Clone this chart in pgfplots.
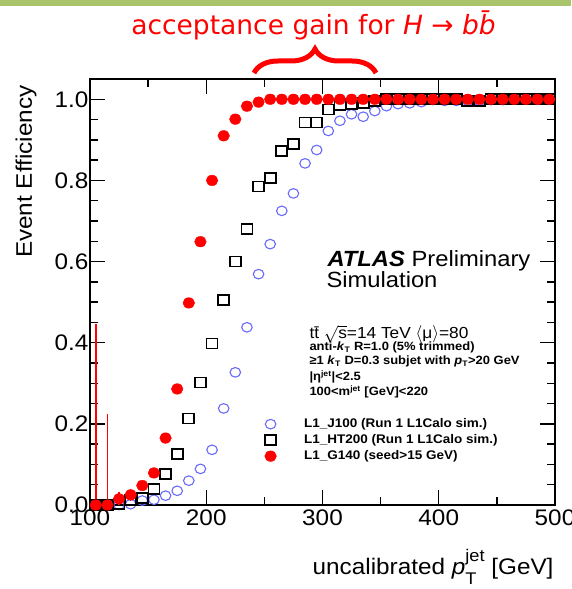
\documentclass[border=0pt]{standalone}
\usepackage{fontspec}
\setmainfont{Liberation Sans}[FakeStretch=1.08]
\newfontfamily\titlefont{DejaVu Sans}
\usepackage{graphicx}
\usepackage{pgfplots}
\pgfplotsset{compat=1.18}
\usetikzlibrary{decorations.pathreplacing}
\definecolor{atlasblue}{RGB}{105,105,250}
\definecolor{topgreen}{RGB}{170,196,108}
\newcommand\supsub[2]{\makebox[0pt][l]{\raisebox{-0.42em}{\scalebox{0.75}{#2}}}\raisebox{0.62em}{\scalebox{0.75}{#1}}}
\begin{document}
\begin{tikzpicture}[x=1pt,y=1pt]
\path[use as bounding box] (0,0) rectangle (571,589);
\fill[topgreen] (0,582.5) rectangle (571,589);
\node[anchor=base, text=red, font=\titlefont\fontsize{26.5}{30}\selectfont] at (314,554)
  {acceptance gain for \textit{H} → \textit{b\={b}}};
\draw[red, line width=5pt, decorate, decoration={brace, amplitude=24pt}] (254,516) -- (376,516);
\node[rotate=90, anchor=base east, font=\fontsize{22.5}{24}\selectfont] at (32,507) {Event Efficiency};
\node[anchor=base east, font=\fontsize{22.5}{24}\selectfont] at (557,14) {uncalibrated \textit{p}\supsub{jet}{T} [GeV]};
\node[anchor=base west, font=\fontsize{22}{24}\selectfont] at (324,322.3) {\textbf{\textit{ATLAS}} Preliminary};
\node[anchor=base west, font=\fontsize{22}{24}\selectfont] at (323,301) {Simulation};
\node[anchor=base west, font=\fontsize{16}{18}\selectfont] at (306,250) {t\={t} $\sqrt{\mbox{s}}$=14 TeV $\langle$μ$\rangle$=80};
\node[anchor=base west, font=\bfseries\fontsize{12}{14}\selectfont] at (306,238.5) {anti-\textit{k}\textsubscript{T} R=1.0 (5\% trimmed)};
\node[anchor=base west, font=\bfseries\fontsize{12}{14}\selectfont] at (306,224) {≥1 \textit{k}\textsubscript{T} D=0.3 subjet with \textit{p}\textsubscript{T}>20 GeV};
\node[anchor=base west, font=\bfseries\fontsize{12}{14}\selectfont] at (306,208) {|η\textsuperscript{jet}|<2.5};
\node[anchor=base west, font=\bfseries\fontsize{12}{14}\selectfont] at (306,193) {100<m\textsuperscript{jet} [GeV]<220};
\begin{axis}[
  at={(90pt,84pt)}, anchor=south west,
  width=465pt, height=426pt, scale only axis,
  xmin=100, xmax=500, ymin=0, ymax=1.05,
  xtick={100,200,300,400,500}, minor x tick num=1,
  ytick={0,0.2,0.4,0.6,0.8,1.0}, minor y tick num=3,
  tick pos=both, tick align=inside,
  major tick length=15pt, minor tick length=8pt,
  axis line style={line width=1.3pt},
  every tick/.append style={line width=1.3pt, black},
  /pgf/number format/assume math mode=true,
  tick label style={font=\fontsize{22.5}{24}\selectfont},
  yticklabel style={inner sep=1.5pt, /pgf/number format/.cd, fixed, fixed zerofill, precision=1},
  xticklabel style={inner sep=1.5pt, yshift=-3pt},
  legend style={at={(axis cs:239,0.219)}, anchor=north west, draw=none, fill=none,
    inner sep=0pt, outer sep=0pt, font=\bfseries\fontsize{12.5}{14}\selectfont,
    nodes={inner sep=1.5pt, text height=9.5pt, text depth=3.5pt}, row sep=0pt},
  legend cell align=left,
  legend image code/.code={\pgfpathrectangle{\pgfpoint{0pt}{-3pt}}{\pgfpoint{51pt}{6pt}}\pgfusepath{use as bounding box}
    \draw[mark repeat=2,mark phase=2] plot coordinates {(0pt,0pt) (19pt,0pt) (38pt,0pt)};},
]
\addplot[only marks, mark=o, mark size=4.8pt, color=atlasblue, mark options={line width=1.1pt, xscale=1.1}] coordinates {
(105,0) (115,0) (125,0.0) (135,0.002) (145,0.011) (155,0.013) (165,0.023) (175,0.035)
(185,0.06) (195,0.089) (205,0.136) (215,0.238) (225,0.327) (235,0.438) (245,0.569)
(255,0.643) (265,0.725) (275,0.768) (285,0.842) (295,0.875) (305,0.922) (315,0.947)
(325,0.963) (335,0.957) (345,0.971) (355,0.983) (365,0.988) (375,0.99) (385,0.993)
(395,0.998) (405,0.996) (415,0.996) (425,0.996) (435,0.996) (445,0.998) (455,0.998)
(465,0.999) (475,0.999) (485,0.999) (495,0.999)
};
\addlegendentry{L1\_J100 (Run 1 L1Calo sim.)}
\addplot[only marks, mark=square, mark size=5pt, black, mark options={line width=1.8pt, xscale=1.1}] coordinates {
(105,0) (115,0) (125,0.003) (135,0.012) (145,0.018) (155,0.04) (165,0.076) (175,0.126)
(185,0.213) (195,0.302) (205,0.398) (215,0.505) (225,0.60) (235,0.68) (245,0.785)
(255,0.805) (265,0.873) (275,0.89) (285,0.943) (295,0.943) (305,0.975) (315,0.985)
(325,0.988) (335,0.99) (345,0.995) (355,1.0) (365,1.0) (375,1.0) (385,1.0) (395,1.0)
(405,1.0) (415,1.0) (425,0.995) (435,0.995) (445,1.0) (455,1.0) (465,1.0) (475,1.0)
(485,1.0) (495,1.0)
};
\addlegendentry{L1\_HT200 (Run 1 L1Calo sim.)}
\addplot[only marks, mark=*, mark size=5.3pt, red, mark options={xscale=1.1},
  error bars/.cd, y dir=both, y explicit, error mark=none,
  error bar style={line width=1.6pt, draw=red, solid}] coordinates {
(105,0) (115,0) (125,0.015) +- (0,0.018) (135,0.025) +- (0,0.015)
(145,0.048) (155,0.079) (165,0.165) (175,0.286)
(185,0.498) (195,0.649) (205,0.80) (215,0.91)
(225,0.951) (235,0.983) (245,0.993) (255,1.0)
(265,1.0) (275,1.0) (285,1.0) (295,1.0)
(305,1.0) (315,1.0) (325,1.0) (335,1.0)
(345,1.0) (355,1.0) (365,1.0) (375,1.0)
(385,1.0) (395,1.0) (405,1.0) (415,1.0)
(425,1.0) (435,1.0) (445,1.0) (455,1.0)
(465,1.0) (475,1.0) (485,1.0) (495,1.0)
};
\addlegendentry{L1\_G140 (seed>15 GeV)}
\addplot[ycomb, red, line width=1.6pt, no marks, forget plot] coordinates {(105,0.445) (115,0.225)};
\end{axis}
\end{tikzpicture}
\end{document}
